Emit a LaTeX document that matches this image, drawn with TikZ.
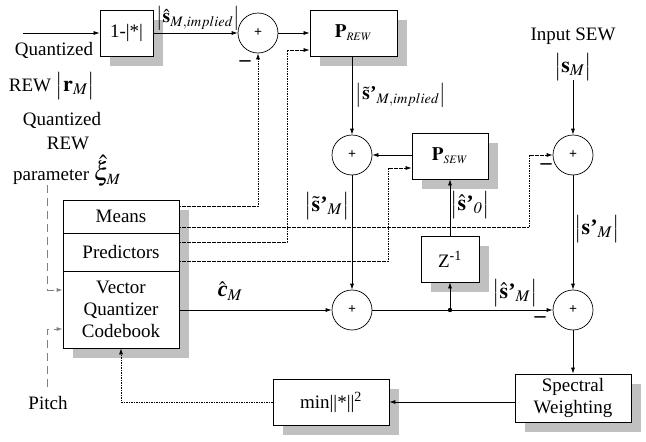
\documentclass[tikz,border=0pt]{standalone}
\usepackage{amsmath}
\usepackage{mathptmx}
\usepackage{fontspec}
\setmainfont{Liberation Serif}
\usetikzlibrary{arrows.meta,shadows}
\definecolor{shadowgray}{HTML}{C0C0C0}
\newcommand\apo{\text{\bfseries ’}}
\begin{document}
\begin{tikzpicture}[x=1pt,y=-1pt,
  font=\fontsize{19}{22}\selectfont,
  >={Latex[length=6pt,width=4pt]},
  box/.style={draw, fill=white, inner sep=0pt, line width=0.8pt,
    general shadow={fill=shadowgray, shadow xshift=10pt, shadow yshift=-10pt}},
  cell/.style={draw, inner sep=0pt, line width=0.8pt, minimum width=116pt},
  sum/.style={circle, draw, fill=white, minimum size=40pt, inner sep=0pt, line width=0.7pt,
    font=\fontsize{14}{14}\selectfont\bfseries},
  conn/.style={line width=0.7pt, ->},
  dotconn/.style={conn, dash pattern=on 1.6pt off 0.9pt},
  pitchline/.style={gray, line width=0.8pt, dash pattern=on 8pt off 5pt, ->},
  lbl/.style={inner sep=0pt},
  mlbl/.style={inner sep=0pt, font=\fontsize{22}{24}\selectfont},
  slbl/.style={inner sep=0pt, font=\fontsize{19.5}{22}\selectfont},
  minus/.style={inner sep=0pt, font=\fontsize{22}{22}\selectfont\bfseries}]
\fill[white] (0,0) rectangle (646,442);
\path[use as bounding box] (0,0) rectangle (646,442);

% boxes
\node[box, minimum width=53pt, minimum height=46pt] (b1) at (126.5,33) {1-|*|};
\node[box, minimum width=87pt, minimum height=46pt] (prew) at (353.5,33) {$\mathbf{P}_{\scriptscriptstyle REW}$};
\node[box, minimum width=76pt, minimum height=46pt] (psew) at (450,156) {$\mathbf{P}_{\scriptscriptstyle SEW}$};
\node[box, minimum width=58pt, minimum height=46pt] (z) at (450,259) {Z\textsuperscript{-1}};
\node[box, minimum width=116pt, minimum height=48pt, align=center] (sw) at (573,398) {Spectral\\Weighting};
\node[box, minimum width=116pt, minimum height=46pt] (minb) at (331,402) {min||*||\textsuperscript{2}};

% stack
\node[box, minimum width=116pt, minimum height=148pt] (stack) at (121,274) {};
\node[cell, minimum height=33pt] (means) at (121,216.5) {Means};
\node[cell, minimum height=38pt] (pred) at (121,252) {Predictors};
\node[cell, minimum height=77pt, align=center] (vqc) at (121,309.5) {Vector\\Quantizer\\Codebook};

% sums
\node[sum] (c1) at (258,33) {+};
\node[sum] (c2) at (352,155) {+};
\node[sum] (c3) at (573,155) {+};
\node[sum] (c4) at (352,310) {+};
\node[sum] (c5) at (573,310) {+};

% labels
\node[lbl] (q1) at (54,50) {Quantized};
\node[lbl] (q2) at (52,86) {REW {\fontsize{22}{24}\selectfont$\big|\mathbf{r}_{M}\big|$}};
\node[lbl] (q3) at (62,120) {Quantized};
\node[lbl] (q4) at (68,143) {REW};
\node[lbl] (q5) at (67,171) {parameter {\fontsize{26}{26}\selectfont$\hat{\xi}_{\scriptscriptstyle M}$}};
\node[lbl] (pitch) at (48,403) {Pitch};
\node[lbl] (insew) at (573,36) {Input SEW};
\node[mlbl] (sm) at (573,67) {$\big|\mathbf{s}_{M}\big|$};
\node[slbl] (l1) at (198,18) {$\big|\hat{\mathbf{s}}_{M,implied}\big|$};
\node[slbl] (l2) at (401,95) {$\big|\tilde{\mathbf{s}}\apo_{M,implied}\big|$};
\node[mlbl] (l3) at (327,206) {$\big|\tilde{\mathbf{s}}\apo_{M}\big|$};
\node[mlbl] (l4) at (470,205) {$\big|\hat{\mathbf{s}}\apo_{\mathit{0}}\big|$};
\node[mlbl] (l5) at (597,229) {$\big|\mathbf{s}\apo_{M}\big|$};
\node[mlbl] (l6) at (515,293) {$\big|\hat{\mathbf{s}}\apo_{M}\big|$};
\node[mlbl] (cm) at (230,291) {$\hat{\text{\bfseries\itshape c}}_{M}$};
\node[minus] (m1) at (245,64) {–};
\node[minus] (m3) at (546,167) {–};
\node[minus] (m5) at (540,320) {–};

% coordinates
\coordinate (in0) at (23,33);
\coordinate (k1) at (287,50);
\coordinate (k2) at (388,168);
\coordinate (k3) at (529,155);
\coordinate (p1) at (47,185);
\coordinate (p2) at (47,387);
\coordinate (jd) at (450,310);

% solid connectors
\draw[conn] (in0) -- (b1.west);
\draw[conn] (b1.east) -- (c1.west);
\draw[conn] (c1.east) -- (prew.west);
\draw[conn] (prew.south -| c2) -- (c2.north);
\draw[conn] (c2.east -| psew.west) -- (c2.east);
\draw[conn] (c2.south) -- (c4.north);
\draw[conn] (vqc.east |- c4) -- (c4.west);
\draw[conn] (c4.east) -- (c5.west);
\fill (jd) circle (2.2pt);
\draw[conn] (jd) -- (z.south);
\draw[conn] (z.north) -- (psew.south);
\draw[conn] (sm.south) -- (c3.north);
\draw[conn] (c3.south) -- (c5.north);
\draw[conn] (c5.south) -- (sw.north);
\draw[conn] (sw.west |- minb.east) -- (minb.east);

% dotted connectors
\draw[dotconn] ([yshift=10.5pt]means.east) -| (c1.south);
\draw[dotconn] ([yshift=-10.5pt]means.east) -| (k3) -- (c3.west);
\draw[dotconn] ([yshift=10pt]pred.east) -| (k1) -- (k1 -| prew.west);
\draw[dotconn] ([yshift=-9pt]pred.east) -| (k2) -- (k2 -| psew.west);
\draw[dotconn] (minb.west) -| (vqc.south);

% pitch / parameter
\draw[pitchline] (p1) |- ([yshift=19.5pt]vqc.west);
\draw[pitchline] (p2) |- ([yshift=-19.5pt]vqc.west);
\end{tikzpicture}
\end{document}
